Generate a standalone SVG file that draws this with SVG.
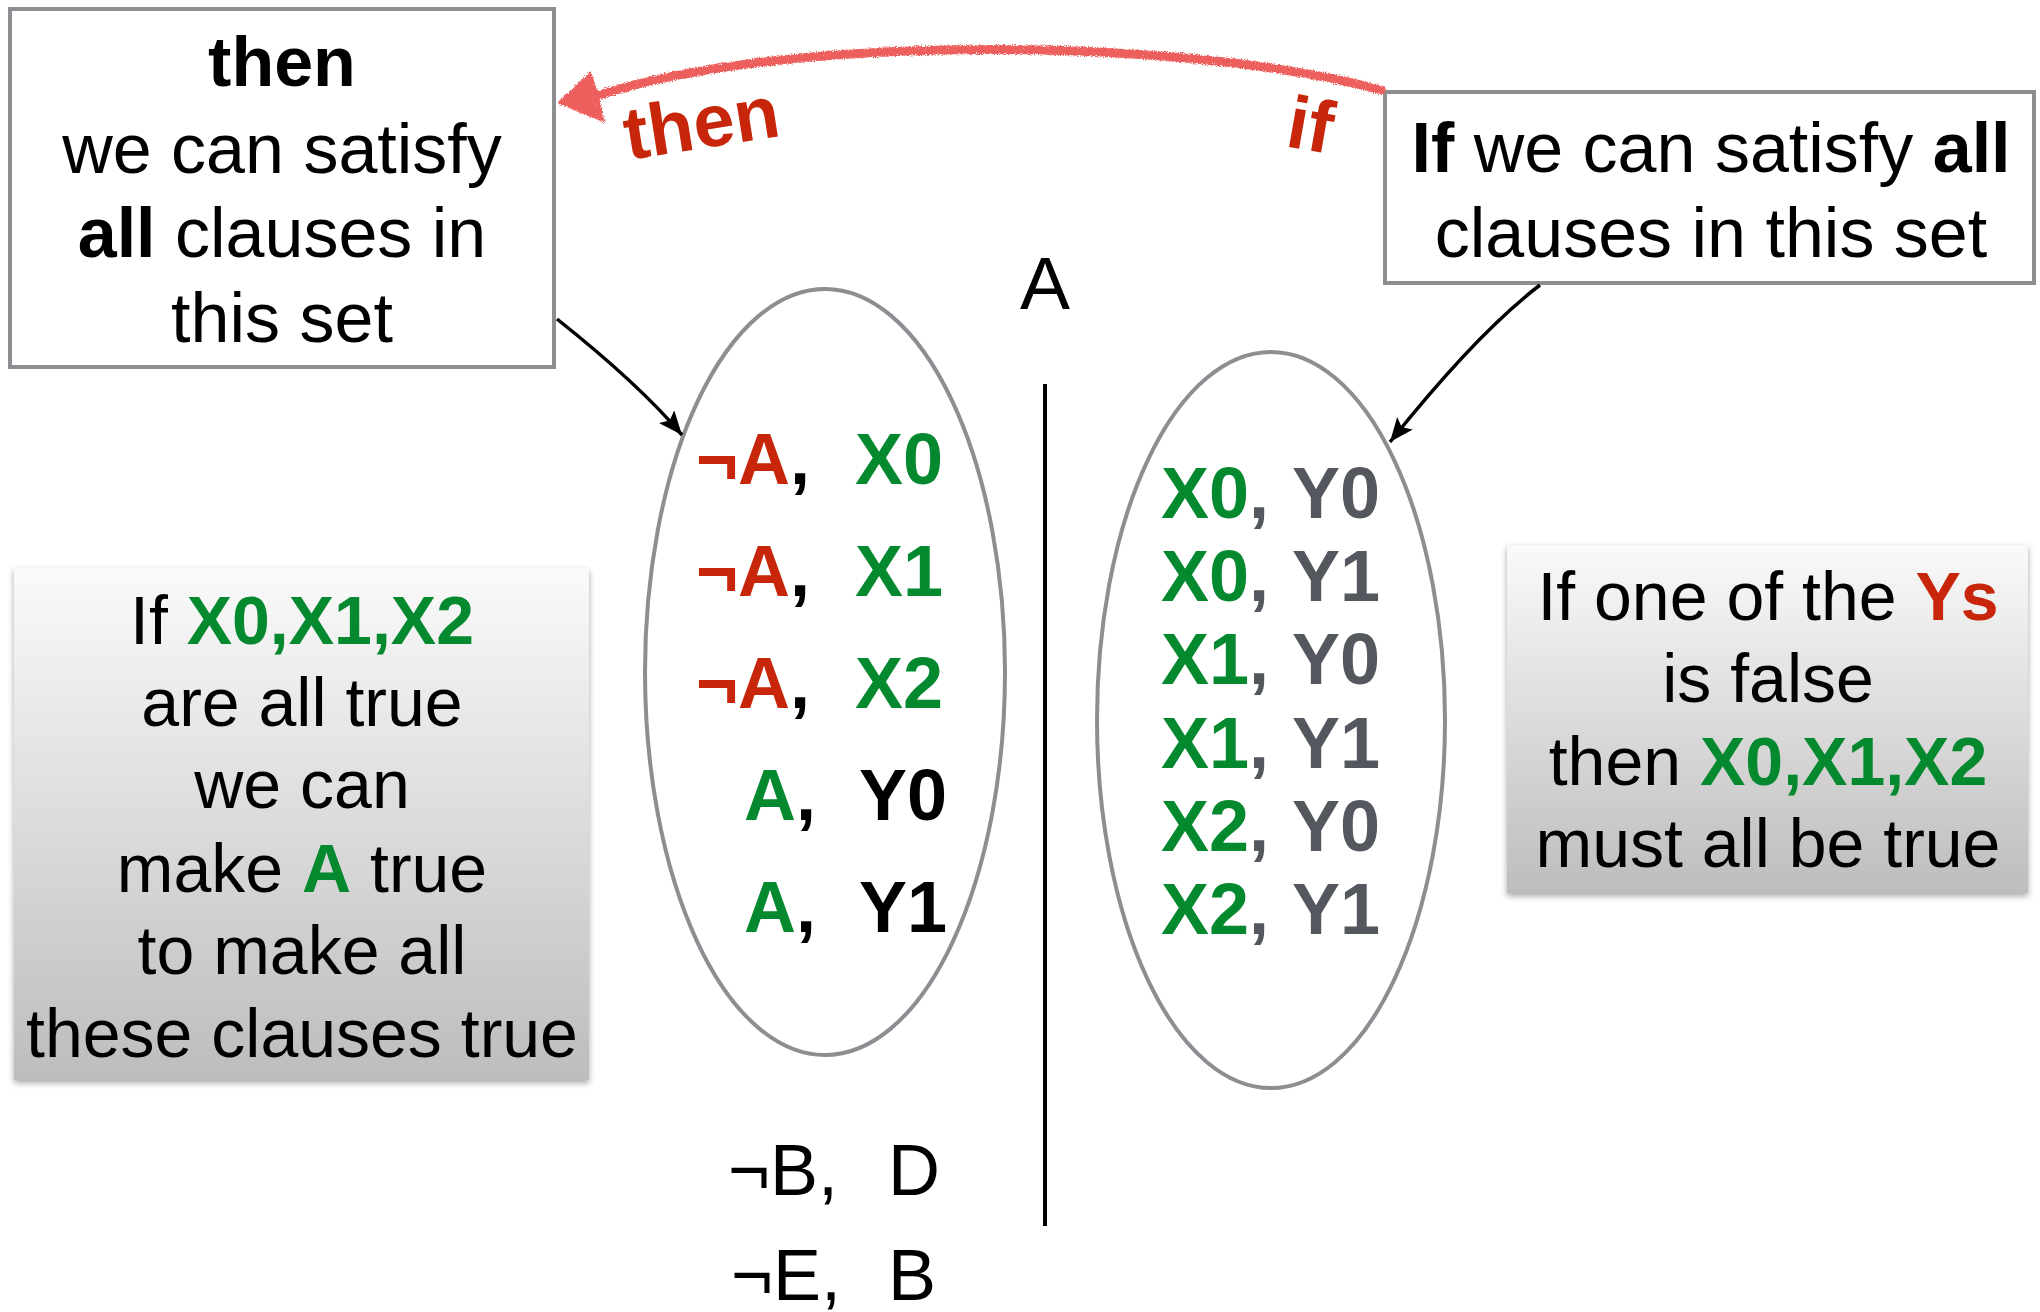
<svg xmlns="http://www.w3.org/2000/svg" width="2040" height="1312" viewBox="0 0 2040 1312">
<style>
text{font-family:"Liberation Sans",Arial,Helvetica,sans-serif;fill:#000}
.body{font-size:70px}
.gbody{font-size:68px}
.lit{font-size:72px;font-weight:bold}
.b{font-weight:bold}
.g{fill:#05892F}
.r{fill:#C8260A}
.y{fill:#54585E}
.mid{text-anchor:middle}
.box{fill:#fff;stroke:#8C8E92;stroke-width:4}
.gbox{fill:url(#grad);filter:url(#sh)}
.ell{fill:none;stroke:#8C8E92;stroke-width:4}
.conn{fill:none;stroke:#000;stroke-width:3.5;marker-end:url(#ah)}
.arc{fill:none;stroke:#EC5F5B;stroke-width:9;stroke-linecap:round}
.lbl{font-size:74px;font-weight:bold;fill:#C8260A}
</style>
<defs>
<linearGradient id="grad" x1="0" y1="0" x2="0" y2="1">
<stop offset="0" stop-color="#FAFAFA"/>
<stop offset="1" stop-color="#BDBDBD"/>
</linearGradient>
<filter id="sh" x="-5%" y="-5%" width="112%" height="112%">
<feDropShadow dx="0" dy="3" stdDeviation="3" flood-color="#000" flood-opacity="0.35"/>
</filter>
<filter id="chalk" x="-5%" y="-60%" width="110%" height="220%">
<feTurbulence type="fractalNoise" baseFrequency="0.9" numOctaves="2" seed="3" result="n"/>
<feDisplacementMap in="SourceGraphic" in2="n" scale="5" xChannelSelector="R" yChannelSelector="G" result="d"/>
<feTurbulence type="fractalNoise" baseFrequency="1.6" numOctaves="1" seed="7" result="n2"/>
<feColorMatrix in="n2" type="matrix" values="0 0 0 0 0  0 0 0 0 0  0 0 0 0 0  0 0 0 -5 4.6" result="m"/>
<feComposite in="d" in2="m" operator="in"/>
</filter>
<marker id="ah" markerUnits="userSpaceOnUse" markerWidth="26" markerHeight="22" refX="24" refY="10" orient="auto">
<path d="M0,0 L24,10 L0,20 L5,10 z" fill="#000"/>
</marker>
</defs>

<g id="then-box">
<rect class="box" x="10" y="9" width="544" height="358"/>
<text class="body mid" x="282" y="86"><tspan class="b">then</tspan></text>
<text class="body mid" x="282" y="173">we can satisfy</text>
<text class="body mid" x="282" y="257"><tspan class="b">all</tspan> clauses in</text>
<text class="body mid" x="282" y="342">this set</text>
</g>

<g id="if-box">
<rect class="box" x="1385" y="92" width="649" height="191"/>
<text class="body mid" x="1711" y="172"><tspan class="b">If</tspan> we can satisfy <tspan class="b">all</tspan></text>
<text class="body mid" x="1711" y="257">clauses in this set</text>
</g>

<g id="left-note">
<rect class="gbox" x="14" y="568" width="575" height="512"/>
<text class="gbody mid" x="302" y="644">If <tspan class="b g">X0,X1,X2</tspan></text>
<text class="gbody mid" x="302" y="726">are all true</text>
<text class="gbody mid" x="302" y="808">we can</text>
<text class="gbody mid" x="302" y="892">make <tspan class="b g">A</tspan> true</text>
<text class="gbody mid" x="302" y="974">to make all</text>
<text class="gbody mid" x="302" y="1057">these clauses true</text>
</g>

<g id="right-note">
<rect class="gbox" x="1507" y="545" width="521" height="348"/>
<text class="gbody mid" x="1768" y="620">If one of the <tspan class="b r">Ys</tspan></text>
<text class="gbody mid" x="1768" y="702">is false</text>
<text class="gbody mid" x="1768" y="785">then <tspan class="b g">X0,X1,X2</tspan></text>
<text class="gbody mid" x="1768" y="867">must all be true</text>
</g>

<g id="label-A">
<text class="mid" x="1045" y="309" font-size="75">A</text>
</g>

<g id="divider">
<line x1="1045" y1="384" x2="1045" y2="1226" stroke="#000" stroke-width="4"/>
</g>

<g id="left-set">
<ellipse class="ell" cx="825" cy="672" rx="180" ry="383"/>
<text class="lit" x="696" y="484"><tspan class="r">¬A</tspan>,</text>
<text class="lit g" x="855" y="484">X0</text>
<text class="lit" x="696" y="596"><tspan class="r">¬A</tspan>,</text>
<text class="lit g" x="855" y="596">X1</text>
<text class="lit" x="696" y="708"><tspan class="r">¬A</tspan>,</text>
<text class="lit g" x="855" y="708">X2</text>
<text class="lit" x="744" y="820"><tspan class="g">A</tspan>,</text>
<text class="lit" x="859" y="820">Y0</text>
<text class="lit" x="744" y="932"><tspan class="g">A</tspan>,</text>
<text class="lit" x="859" y="932">Y1</text>
</g>

<g id="right-set">
<ellipse class="ell" cx="1271" cy="720" rx="174" ry="368"/>
<text class="lit" x="1161" y="518"><tspan class="g">X0</tspan><tspan class="y">,</tspan></text>
<text class="lit y" x="1292" y="518">Y0</text>
<text class="lit" x="1161" y="601"><tspan class="g">X0</tspan><tspan class="y">,</tspan></text>
<text class="lit y" x="1292" y="601">Y1</text>
<text class="lit" x="1161" y="684"><tspan class="g">X1</tspan><tspan class="y">,</tspan></text>
<text class="lit y" x="1292" y="684">Y0</text>
<text class="lit" x="1161" y="768"><tspan class="g">X1</tspan><tspan class="y">,</tspan></text>
<text class="lit y" x="1292" y="768">Y1</text>
<text class="lit" x="1161" y="851"><tspan class="g">X2</tspan><tspan class="y">,</tspan></text>
<text class="lit y" x="1292" y="851">Y0</text>
<text class="lit" x="1161" y="934"><tspan class="g">X2</tspan><tspan class="y">,</tspan></text>
<text class="lit y" x="1292" y="934">Y1</text>
</g>

<g id="other-clauses">
<text x="728" y="1195" font-size="72">¬B,</text>
<text x="888" y="1195" font-size="72">D</text>
<text x="731" y="1300" font-size="72">¬E,</text>
<text x="888" y="1300" font-size="72">B</text>
</g>

<g id="connectors">
<path class="conn" d="M557,319 Q640,385 682,435"/>
<path class="conn" d="M1540,285 Q1477,333 1390,442"/>
<g filter="url(#chalk)">
<path class="arc" d="M1381,90 C1200,40 800,30 596,96"/>
<polygon points="557,103 591,71 598,93 605,123" fill="#EC5F5B"/>
</g>
<text class="lbl" font-size="72" transform="translate(628,160) rotate(-9)">then</text>
<text class="lbl" font-size="76" transform="translate(1284,146) rotate(10)">if</text>
</g>
</svg>
